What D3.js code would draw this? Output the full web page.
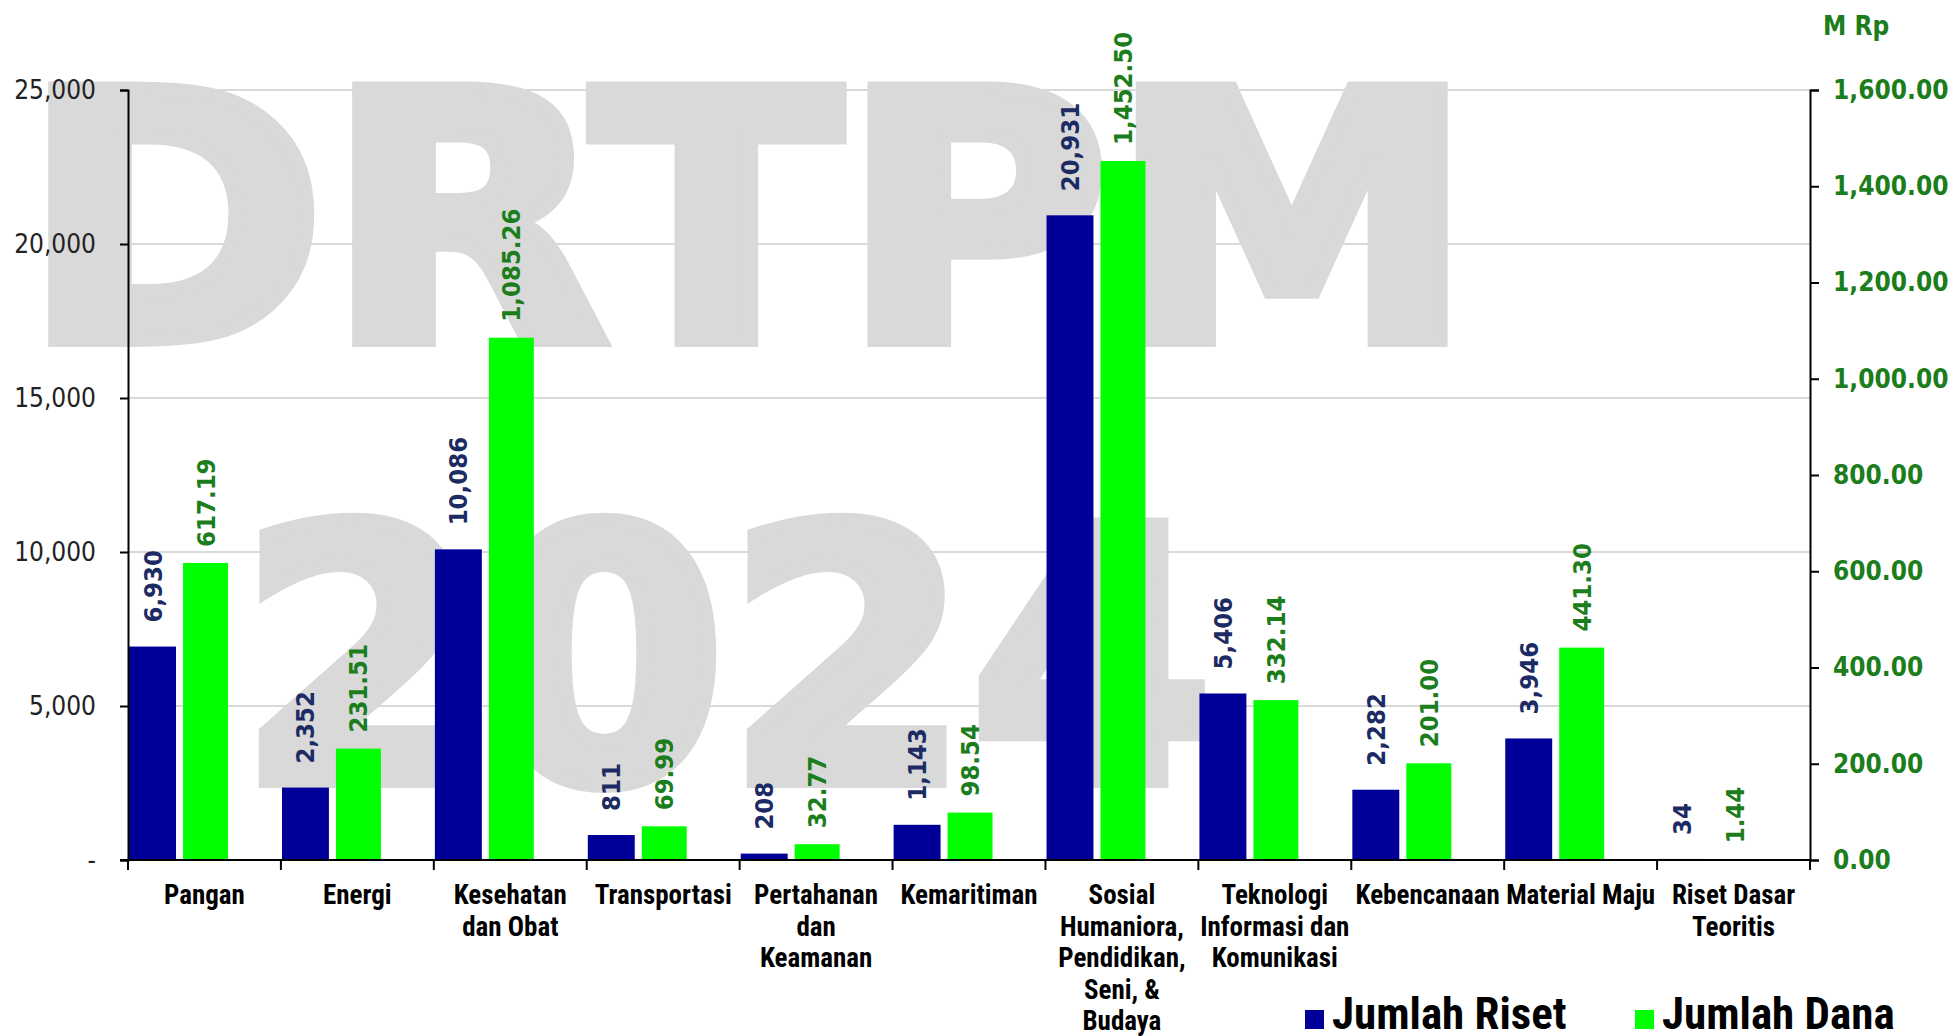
<!DOCTYPE html>
<html>
<head>
<meta charset="utf-8">
<script src="https://cdn.jsdelivr.net/npm/d3@7"></script>
<style>
  html, body { margin: 0; padding: 0; background: #ffffff; }
  svg { display: block; }
</style>
</head>
<body>
<svg id="chart" width="1957" height="1036"></svg>
<script>
// ---------- DATA ----------
const categories = ["Pangan", "Energi", "Kesehatan dan Obat", "Transportasi", "Pertahanan dan Keamanan", "Kemaritiman", "Sosial Humaniora, Pendidikan, Seni, & Budaya", "Teknologi Informasi dan Komunikasi", "Kebencanaan", "Material Maju", "Riset Dasar Teoritis"];
const categoryLines = [["Pangan"], ["Energi"], ["Kesehatan", "dan Obat"], ["Transportasi"], ["Pertahanan", "dan", "Keamanan"], ["Kemaritiman"], ["Sosial", "Humaniora,", "Pendidikan,", "Seni, &", "Budaya"], ["Teknologi", "Informasi dan", "Komunikasi"], ["Kebencanaan"], ["Material Maju"], ["Riset Dasar", "Teoritis"]];
const jumlahRiset = [6930, 2352, 10086, 811, 208, 1143, 20931, 5406, 2282, 3946, 34];
const jumlahDana = [617.19, 231.51, 1085.26, 69.99, 32.77, 98.54, 1452.50, 332.14, 201.00, 441.30, 1.44];
const leftTicks = [0, 5000, 10000, 15000, 20000, 25000];
const rightTicks = [0, 200, 400, 600, 800, 1000, 1200, 1400, 1600];
const seriesNames = ["Jumlah Riset", "Jumlah Dana"];
const watermarkLines = ["DRTPM", "2024"];
const rightUnit = "M Rp";

// ---------- LAYOUT ----------
const svg = d3.select("#chart");
const plot = { left: 128, right: 1810, top: 90, bottom: 860 };
const C = {
  blue: "#000099", green: "#00ff00",
  blueLabel: "#1c2b63", greenLabel: "#1b7d1b",
  grid: "#d9d9d9", wm: "#d9d9d9", axis: "#000000"
};
const narrow = "'Liberation Sans Narrow', 'Arial Narrow', 'Roboto Condensed', 'DejaVu Sans Condensed', sans-serif";
const cond = "'DejaVu Sans Condensed', 'DejaVu Sans', sans-serif";

const x = d3.scaleBand().domain(categories).range([plot.left, plot.right]).paddingInner(0).paddingOuter(0);
const yL = d3.scaleLinear().domain([0, 25000]).range([plot.bottom, plot.top]);
const yR = d3.scaleLinear().domain([0, 1600]).range([plot.bottom, plot.top]);

// ---------- WATERMARK ----------
const wm = svg.append("g").attr("fill", C.wm).attr("stroke", C.wm).attr("stroke-width", 14).attr("stroke-linejoin", "miter")
  .style("font-family", "'DejaVu Sans', sans-serif").style("font-weight", "bold");
wm.append("text").attr("x", 22).attr("y", 340).attr("font-size", 345)
  .attr("textLength", 1452).attr("lengthAdjust", "spacingAndGlyphs").text(watermarkLines[0]);
wm.append("text").attr("x", 238).attr("y", 781).attr("font-size", 352)
  .attr("textLength", 976).attr("lengthAdjust", "spacingAndGlyphs").text(watermarkLines[1]);

// ---------- GRID ----------
svg.append("g").selectAll("line").data(leftTicks.filter(d => d > 0)).join("line")
  .attr("x1", plot.left).attr("x2", plot.right)
  .attr("y1", d => yL(d)).attr("y2", d => yL(d))
  .attr("stroke", C.grid).attr("stroke-width", 2);

// ---------- BARS ----------
const bw = x.bandwidth();
const blueOff = bw * 0.007, blueW = bw * 0.307;
const greenOff = bw * 0.36, greenW = bw * 0.294;

svg.append("g").selectAll("rect").data(categories).join("rect")
  .attr("x", (d) => x(d) + blueOff).attr("width", blueW)
  .attr("y", (d, i) => yL(jumlahRiset[i]))
  .attr("height", (d, i) => plot.bottom - yL(jumlahRiset[i]))
  .attr("fill", C.blue);
svg.append("g").selectAll("rect").data(categories).join("rect")
  .attr("x", (d) => x(d) + greenOff).attr("width", greenW)
  .attr("y", (d, i) => yR(jumlahDana[i]))
  .attr("height", (d, i) => plot.bottom - yR(jumlahDana[i]))
  .attr("fill", C.green);

// ---------- DATA LABELS ----------
const fmtR = d3.format(",");
const fmtD = d3.format(",.2f");
svg.append("g").selectAll("text").data(categories).join("text")
  .attr("transform", (d, i) => `translate(${x(d) + blueOff + blueW / 2 + 9},${yL(jumlahRiset[i]) - 24}) rotate(-90)`)
  .attr("text-anchor", "start")
  .style("font-family", cond).style("font-weight", "bold").style("font-size", "25.5px")
  .attr("fill", C.blueLabel)
  .text((d, i) => fmtR(jumlahRiset[i]));
svg.append("g").selectAll("text").data(categories).join("text")
  .attr("transform", (d, i) => `translate(${x(d) + greenOff + greenW / 2 + 9},${yR(jumlahDana[i]) - 16}) rotate(-90)`)
  .attr("text-anchor", "start")
  .style("font-family", cond).style("font-weight", "bold").style("font-size", "25.5px")
  .attr("fill", C.greenLabel)
  .text((d, i) => fmtD(jumlahDana[i]));

// ---------- AXES ----------
const leftAxis = d3.axisLeft(yL).tickValues(leftTicks).tickSize(8).tickPadding(24)
  .tickFormat(d => d === 0 ? "-" : fmtR(d));
const gL = svg.append("g").attr("transform", `translate(${plot.left},0)`).call(leftAxis);
gL.select(".domain").attr("stroke", C.axis).attr("stroke-width", 2);
gL.selectAll(".tick line").attr("stroke", C.axis).attr("stroke-width", 2);
gL.selectAll(".tick text").style("font-family", cond).style("font-size", "26px").attr("fill", "#222");

const rightAxis = d3.axisRight(yR).tickValues(rightTicks).tickSize(9).tickPadding(14)
  .tickFormat(d => fmtD(d));
const gR = svg.append("g").attr("transform", `translate(${plot.right},0)`).call(rightAxis);
gR.select(".domain").attr("stroke", C.axis).attr("stroke-width", 2);
gR.selectAll(".tick line").attr("stroke", C.axis).attr("stroke-width", 2);
gR.selectAll(".tick text").style("font-family", cond).style("font-weight", "bold").style("font-size", "26px").attr("fill", C.greenLabel);

svg.append("text").attr("x", 1823).attr("y", 35)
  .style("font-family", cond).style("font-weight", "bold").style("font-size", "26px")
  .attr("fill", C.greenLabel).text(rightUnit);

// bottom axis
const gB = svg.append("g");
gB.append("line").attr("x1", plot.left - 8).attr("x2", plot.right)
  .attr("y1", plot.bottom).attr("y2", plot.bottom).attr("stroke", C.axis).attr("stroke-width", 2);
const bounds = categories.map(d => x(d)).concat([plot.right]);
gB.selectAll("line.tk").data(bounds).join("line").attr("class", "tk")
  .attr("x1", d => d).attr("x2", d => d)
  .attr("y1", plot.bottom).attr("y2", plot.bottom + 10)
  .attr("stroke", C.axis).attr("stroke-width", 2);

const catG = svg.append("g").style("font-family", narrow).style("font-weight", "bold").style("font-size", "27px").attr("fill", "#000");
categories.forEach((c, i) => {
  const t = catG.append("text").attr("x", x(c) + bw / 2).attr("y", 904).attr("text-anchor", "middle");
  categoryLines[i].forEach((ln, j) => {
    t.append("tspan").attr("x", x(c) + bw / 2).attr("y", 904 + j * 31.5).text(ln);
  });
});

// ---------- LEGEND ----------
const lg = svg.append("g").style("font-family", narrow).style("font-weight", "bold").style("font-size", "45px");
const legendX = [1305, 1635];
[C.blue, C.green].forEach((col, i) => {
  lg.append("rect").attr("x", legendX[i]).attr("y", 1010).attr("width", 19).attr("height", 19).attr("fill", col);
  lg.append("text").attr("x", legendX[i] + 27).attr("y", 1029).attr("fill", "#000").text(seriesNames[i]);
});
</script>
</body>
</html>
